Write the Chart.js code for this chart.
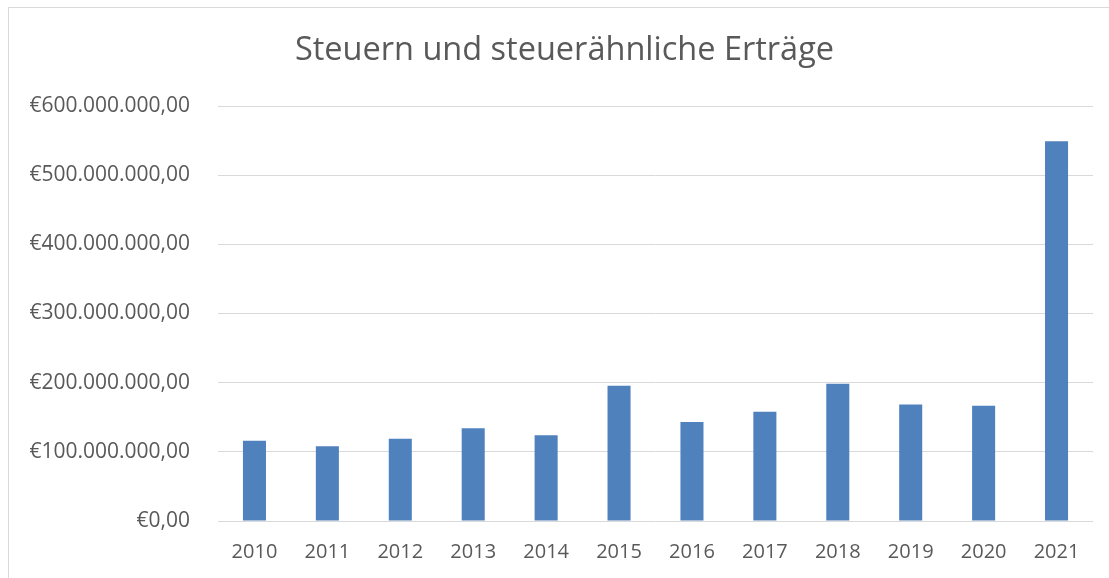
<!DOCTYPE html>
<html>
<head>
<meta charset="utf-8">
<script src="https://cdn.jsdelivr.net/npm/chart.js"></script>
<style>
  html, body { margin: 0; padding: 0; background: #ffffff; }
  canvas { display: block; }
</style>
</head>
<body>
<canvas id="chart" width="1109" height="578"></canvas>
<script>
const years = ['2010', '2011', '2012', '2013', '2014', '2015', '2016', '2017', '2018', '2019', '2020', '2021'];
const ertraege = [116000000, 108000000, 119000000, 134000000, 124000000, 195500000, 143000000, 158000000, 198500000, 168500000, 166500000, 549000000];
const chartTitle = 'Steuern und steuerähnliche Erträge';

// 600000000 -> "€600.000.000,00"
function euro(value) {
    const parts = Math.round(value).toString().replace(/\B(?=(\d{3})+(?!\d))/g, '.');
    return '€' + parts + ',00';
}

// thin grey frame of the chart object, cut off on the right and bottom
const framePlugin = {
    id: 'frame',
    afterLayout(chart) {
        // excel centres the title a bit right of the canvas middle
        if (chart.titleBlock) {
            chart.titleBlock.left = 36;
        }
    },
    beforeDraw(chart) {
        const ctx = chart.ctx;
        ctx.save();
        ctx.strokeStyle = '#d9d9d9';
        ctx.lineWidth = 1;
        ctx.strokeRect(8.5, 7.5, 1300, 800);
        ctx.restore();
    }
};

const ctx = document.getElementById('chart').getContext('2d');
new Chart(ctx, {
    type: 'bar',
    data: {
        labels: years,
        datasets: [{
            label: chartTitle,
            data: ertraege,
            backgroundColor: '#4f81bd',
            barPercentage: 0.316,
            categoryPercentage: 1
        }]
    },
    plugins: [framePlugin],
    options: {
        responsive: false,
        animation: false,
        layout: {
            padding: { left: 0, right: 16, top: 0, bottom: 14 }
        },
        scales: {
            x: {
                afterFit: (scale) => { scale.height = 43; },
                grid: { display: false, drawTicks: false },
                border: { display: false },
                ticks: {
                    color: '#595959',
                    padding: 19,
                    font: { family: 'Open Sans', size: 20 }
                }
            },
            y: {
                min: 0,
                max: 600000000,
                afterFit: (scale) => { scale.width = 218; },
                grid: { color: '#d9d9d9', lineWidth: 1, drawTicks: false, tickLength: 0 },
                border: { display: false },
                ticks: {
                    stepSize: 100000000,
                    color: '#595959',
                    padding: 28,
                    font: { family: 'Open Sans', size: 21 },
                    callback: (value) => euro(value)
                }
            }
        },
        plugins: {
            legend: { display: false },
            tooltip: { enabled: false },
            title: {
                display: true,
                text: chartTitle,
                color: '#595959',
                font: { family: 'Open Sans', size: 32.5, weight: 'normal', lineHeight: 1.2 },
                padding: { top: 31, bottom: 36 }
            }
        }
    }
});
</script>
</body>
</html>
